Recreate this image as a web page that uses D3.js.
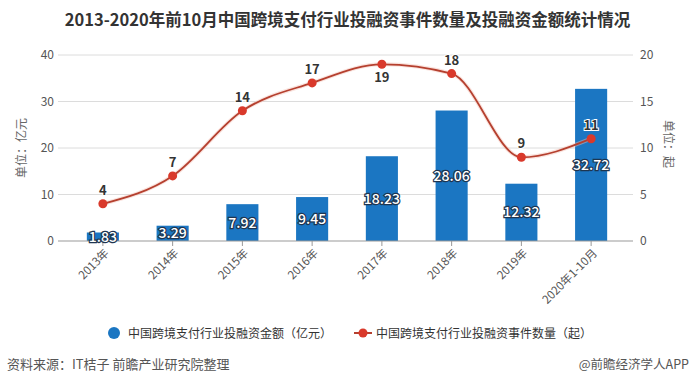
<!DOCTYPE html>
<html>
<head>
<meta charset="utf-8">
<script src="https://cdn.jsdelivr.net/npm/d3@7"></script>
<style>
  body { margin: 0; background: #fff; }
  svg { display: block; font-family: "Noto Sans CJK SC", "Noto Sans", sans-serif; }
</style>
</head>
<body>
<div id="chart"></div>
<script>
// ---- data ----
const years = ["2013年", "2014年", "2015年", "2016年", "2017年", "2018年", "2019年", "2020年1-10月"];
const amounts = [1.83, 3.29, 7.92, 9.45, 18.23, 28.06, 12.32, 32.72];   // 亿元
const counts = [4, 7, 14, 17, 19, 18, 9, 11];                            // 起
const leftTicks = [0, 10, 20, 30, 40];
const rightTicks = [0, 5, 10, 15, 20];

const width = 693, height = 391;
const barColor = "#1b76c2";
const lineColor = "#b5402f";
const dotColor = "#d9392b";

const svg = d3.select("#chart").append("svg")
    .attr("width", width)
    .attr("height", height);

// title
svg.append("text")
    .attr("x", width / 2 + 1)
    .attr("y", 26)
    .attr("text-anchor", "middle")
    .style("font-size", "16.5px")
    .style("font-weight", "bold")
    .attr("fill", "#333")
    .text("2013-2020年前10月中国跨境支付行业投融资事件数量及投融资金额统计情况");

// scales
const gridLeft = 58, gridRight = 633;
const x = d3.scaleBand().domain(years).range([68, 626]).paddingInner(0.54).paddingOuter(0.27);
const yL = d3.scaleLinear().domain([0, 40]).range([241, 55]);
const yR = d3.scaleLinear().domain([0, 20]).range([241, 55]);
const cx = d => x(d) + x.bandwidth() / 2;

// gridlines
svg.append("g")
    .selectAll("line")
    .data(leftTicks.slice(1))
    .enter()
    .append("line")
    .attr("x1", gridLeft).attr("x2", gridRight)
    .attr("y1", d => yL(d)).attr("y2", d => yL(d))
    .attr("stroke", "#dcdcdc");

// left axis labels
svg.append("g")
    .selectAll("text")
    .data(leftTicks)
    .enter()
    .append("text")
    .attr("x", 54)
    .attr("y", d => yL(d) + 4)
    .attr("text-anchor", "end")
    .style("font-size", "12px")
    .attr("fill", "#555")
    .text(d => d);

// right axis labels
svg.append("g")
    .selectAll("text")
    .data(rightTicks)
    .enter()
    .append("text")
    .attr("x", 640)
    .attr("y", d => yR(d) + 4)
    .attr("text-anchor", "start")
    .style("font-size", "12px")
    .attr("fill", "#555")
    .text(d => d);

// axis titles
svg.append("text")
    .attr("transform", "translate(26,148) rotate(-90)")
    .attr("text-anchor", "middle")
    .style("font-size", "12px")
    .attr("fill", "#666")
    .text("单位：亿元");

svg.append("text")
    .attr("transform", "translate(664,144) rotate(90)")
    .attr("text-anchor", "middle")
    .style("font-size", "12px")
    .attr("fill", "#666")
    .text("单位：起");

// bars
svg.append("g")
    .selectAll("rect")
    .data(amounts)
    .enter()
    .append("rect")
    .attr("x", (d, i) => x(years[i]))
    .attr("y", d => yL(d))
    .attr("width", x.bandwidth())
    .attr("height", d => yL(0) - yL(d))
    .attr("fill", barColor);

// x axis line + ticks
svg.append("line")
    .attr("x1", gridLeft).attr("x2", gridRight)
    .attr("y1", yL(0)).attr("y2", yL(0))
    .attr("stroke", "#999");

svg.append("g")
    .selectAll("line")
    .data(years)
    .enter()
    .append("line")
    .attr("x1", d => cx(d)).attr("x2", d => cx(d))
    .attr("y1", yL(0)).attr("y2", yL(0) + 5)
    .attr("stroke", "#999");

svg.append("g")
    .selectAll("text")
    .data(years)
    .enter()
    .append("text")
    .attr("transform", d => `translate(${cx(d) + 4},${yL(0) + 10}) rotate(-45)`)
    .attr("text-anchor", "end")
    .attr("dy", "0.35em")
    .style("font-size", "11.5px")
    .attr("fill", "#555")
    .text(d => d);

// bar value labels (in the middle of each bar)
svg.append("g")
    .selectAll("text")
    .data(amounts)
    .enter()
    .append("text")
    .attr("x", (d, i) => cx(years[i]))
    .attr("y", d => (yL(d) + yL(0)) / 2)
    .attr("dy", "0.36em")
    .attr("text-anchor", "middle")
    .style("font-size", "14px")
    .style("font-weight", "500")
    .attr("fill", "#fff")
    .attr("stroke", "#1e3550")
    .attr("stroke-width", 2.4)
    .style("paint-order", "stroke")
    .text(d => d.toFixed(2));

// line
const line = d3.line()
    .x((d, i) => cx(years[i]))
    .y(d => yR(d))
    .curve(d3.curveMonotoneX);

svg.append("path")
    .datum(counts)
    .attr("d", line)
    .attr("fill", "none")
    .attr("stroke", "#f3c2b6")
    .attr("stroke-width", 4)
    .attr("opacity", 0.45);

svg.append("path")
    .datum(counts)
    .attr("d", line)
    .attr("fill", "none")
    .attr("stroke", lineColor)
    .attr("stroke-width", 1.8);

svg.append("g")
    .selectAll("circle")
    .data(counts)
    .enter()
    .append("circle")
    .attr("cx", (d, i) => cx(years[i]))
    .attr("cy", d => yR(d))
    .attr("r", 4.5)
    .attr("fill", dotColor);

const maxCount = d3.max(counts);
svg.append("g")
    .selectAll("text")
    .data(counts)
    .enter()
    .append("text")
    .attr("x", (d, i) => cx(years[i]))
    .attr("y", d => d === maxCount ? yR(d) + 18 : yR(d) - 9)
    .attr("text-anchor", "middle")
    .style("font-size", "13px")
    .style("font-weight", "bold")
    .attr("fill", "#333")
    .attr("stroke", "#fff")
    .attr("stroke-width", 2)
    .style("paint-order", "stroke")
    .text(d => d);

// legend
const legend = svg.append("g");
legend.append("circle")
    .attr("cx", 114).attr("cy", 333).attr("r", 6)
    .attr("fill", barColor);
legend.append("text")
    .attr("x", 128).attr("y", 337.5)
    .style("font-size", "12px")
    .attr("fill", "#333")
    .text("中国跨境支付行业投融资金额（亿元）");

legend.append("line")
    .attr("x1", 354).attr("x2", 372)
    .attr("y1", 333).attr("y2", 333)
    .attr("stroke", lineColor)
    .attr("stroke-width", 2);
legend.append("circle")
    .attr("cx", 363).attr("cy", 333).attr("r", 4.5)
    .attr("fill", dotColor);
legend.append("text")
    .attr("x", 376).attr("y", 337.5)
    .style("font-size", "12px")
    .attr("fill", "#333")
    .text("中国跨境支付行业投融资事件数量（起）");

// footer
svg.append("text")
    .attr("x", 7).attr("y", 369)
    .style("font-size", "13px")
    .attr("fill", "#555")
    .text("资料来源：IT桔子 前瞻产业研究院整理");

svg.append("text")
    .attr("x", 689).attr("y", 369)
    .attr("text-anchor", "end")
    .style("font-size", "12.5px")
    .attr("fill", "#555")
    .text("@前瞻经济学人APP");
</script>
</body>
</html>
